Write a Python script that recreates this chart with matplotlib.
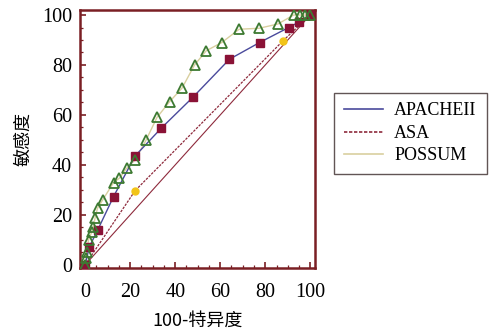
import matplotlib
matplotlib.use("Agg")
import matplotlib.pyplot as plt
from matplotlib.lines import Line2D
from matplotlib.ticker import MultipleLocator

# APACHE II ROC points
apache_x = [0, 1.9, 5.6, 12.6, 22.2, 33.8, 48.1, 64.1, 77.5, 90.4, 95.2, 100]
apache_y = [0, 7.3, 14.0, 27.3, 43.6, 54.7, 67.3, 82.3, 89.0, 95.0, 97.3, 100]

# ASA ROC points
asa_x = [0, 22.2, 87.9, 100]
asa_y = [0, 29.7, 89.7, 100]

# POSSUM ROC points
possum_x = [0, 0.4, 0.7, 1.5, 3.0, 3.7, 4.4, 5.5, 7.8, 12.6, 15.2, 18.5, 22.2,
            27.1, 31.9, 37.5, 43.0, 48.6, 53.8, 60.7, 68.4, 77.3, 85.6, 92.6,
            95.3, 97.8, 100]
possum_y = [0, 2.7, 5.3, 10.0, 13.3, 15.3, 18.7, 22.7, 26.0, 32.9, 34.7, 38.7,
            42.0, 50.0, 59.0, 65.3, 70.7, 80.0, 85.7, 89.0, 94.3, 94.7, 96.4,
            100, 100, 100, 100]

ticks = [0, 20, 40, 60, 80, 100]
labels = ["APACHEII", "ASA", "POSSUM"]

frame_c = "#7a1f24"
c_apache = "#4a4a9c"
c_asa = "#8e2a3c"
c_possum = "#d9cf9f"

plt.rcParams["font.family"] = ["Liberation Serif", "Noto Sans CJK SC"]

fig = plt.figure(figsize=(4.98, 3.34), dpi=100)
ax = fig.add_axes([0.161, 0.198, 0.472, 0.772])

# reference diagonal
ax.plot([0, 100], [0, 100], color=c_asa, lw=0.8, zorder=1)

ax.plot(asa_x, asa_y, color=c_asa, lw=0.9, ls=(0, (2, 1)), zorder=2)
ax.plot(asa_x, asa_y, ls="none", marker="o", ms=5, color="#f2c418",
        mec="#f2c418", zorder=4)

ax.plot(possum_x, possum_y, color=c_possum, lw=1.0, zorder=2)
ax.plot(possum_x, possum_y, ls="none", marker="^", ms=7, mfc="none",
        mec="#3d7a32", mew=1.3, zorder=5)

ax.plot(apache_x, apache_y, color=c_apache, lw=1.0, zorder=3)
ax.plot(apache_x, apache_y, ls="none", marker="s", ms=5.5, color="#8a1236",
        mec="#8a1236", zorder=4)

ax.set_xlim(-2.2, 102.2)
ax.set_ylim(-1.2, 102)
ax.set_xticks(ticks)
ax.set_yticks(ticks)
ax.xaxis.set_minor_locator(MultipleLocator(5))
ax.yaxis.set_minor_locator(MultipleLocator(5))
ax.tick_params(which="both", direction="in", color=frame_c, labelsize=14.5,
               top=False, right=False)
ax.tick_params(which="major", length=4, width=1.2)
ax.tick_params(axis="x", which="major", pad=11)
ax.tick_params(axis="y", which="major", pad=6)
ax.tick_params(which="minor", length=2, width=0.9)
for s in ax.spines.values():
    s.set_color(frame_c)
    s.set_linewidth(1.8)

ax.set_xlabel("100-特异度", fontsize=13, labelpad=7,
              family=["Noto Sans CJK SC", "DejaVu Sans"])
ax.set_ylabel("敏感度", fontsize=13, labelpad=7,
              family=["Noto Sans CJK SC", "DejaVu Sans"])

handles = [Line2D([], [], color=c_apache, lw=1.2),
           Line2D([], [], color=c_asa, lw=1.2, ls=(0, (2, 1))),
           Line2D([], [], color=c_possum, lw=1.2)]
leg = fig.legend(handles, labels, loc="upper left",
                 bbox_to_anchor=(0.652, 0.75), fontsize=13, frameon=True,
                 fancybox=False, handlelength=2.2, borderpad=0.55,
                 labelspacing=0.3, handletextpad=0.6)
leg.get_frame().set_edgecolor("#3a2a2a")
leg.get_frame().set_linewidth(1.0)

fig.savefig("out.png", dpi=100)
